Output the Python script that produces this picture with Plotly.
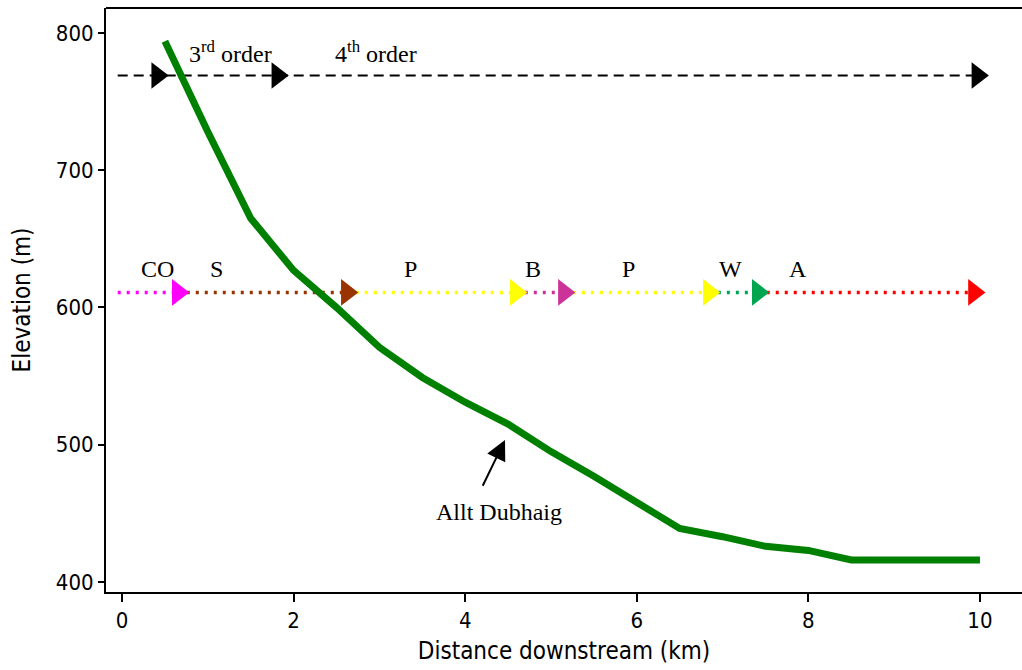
import plotly.graph_objects as go

# Long profile of Allt Dubhaig
dist_km = [0.5, 1.0, 1.5, 2.0, 2.5, 3.0, 3.5, 4.0, 4.5, 5.0, 5.5, 6.0, 6.5,
           7.0, 7.5, 8.0, 8.5, 9.0, 9.5, 10.0]
elev_m = [794, 728, 665, 627, 600, 571, 549, 531, 515, 495, 477, 458, 439,
          433, 426, 423, 416, 416, 416, 416]

# Stream order line
order_elev = 769
order_start = -0.05
order_arrows = [0.41, 1.81, 9.97]
order_labels = ["3<sup>rd</sup> order", "4<sup>th</sup> order"]
order_label_x = [1.27, 2.955]
order_label_elev = 786

# Geology / land segments line
seg_elev = 611
seg_start = [-0.05, 0.65, 2.62, 4.59, 5.15, 6.84, 7.41]
seg_end = [0.65, 2.62, 4.59, 5.15, 6.84, 7.41, 9.93]
seg_colors = ["#FF00FF", "#993300", "#FFFF00", "#CC3399", "#FFFF00", "#00A550", "#FF0000"]
seg_labels = ["CO", "S", "P", "B", "P", "W", "A"]
seg_label_x = [0.41, 1.1, 3.36, 4.79, 5.9, 7.09, 7.88]
seg_label_elev = 628

river_name = "Allt Dubhaig"
river_label_x, river_label_elev = 4.39, 451
arrow_tail = (4.196, 469)
arrow_tip = (4.464, 503.5)

serif = "Liberation Serif, Times New Roman, serif"
sans = "DejaVu Sans Condensed, DejaVu Sans, sans-serif"

fig = go.Figure()

# stream-order dashed line
fig.add_trace(go.Scatter(x=[order_start, order_arrows[-1]], y=[order_elev, order_elev],
                         mode="lines", line=dict(color="black", width=2, dash="10px,6px"),
                         hoverinfo="skip", showlegend=False))

# coloured dotted segments
for s, e, c in zip(seg_start, seg_end, seg_colors):
    fig.add_trace(go.Scatter(x=[s, e], y=[seg_elev, seg_elev], mode="lines",
                             line=dict(color=c, width=3.5, dash="3px,6px"),
                             hoverinfo="skip", showlegend=False))

# profile
fig.add_trace(go.Scatter(x=dist_km, y=elev_m, mode="lines",
                         line=dict(color="#008000", width=7),
                         hoverinfo="skip", showlegend=False))

# arrow markers
fig.add_trace(go.Scatter(x=order_arrows, y=[order_elev] * len(order_arrows), mode="markers",
                         marker=dict(symbol="triangle-right", size=23, color="black",
                                     line=dict(width=0)),
                         hoverinfo="skip", showlegend=False))
fig.add_trace(go.Scatter(x=seg_end, y=[seg_elev] * len(seg_end), mode="markers",
                         marker=dict(symbol="triangle-right", size=23, color=seg_colors,
                                     line=dict(width=0)),
                         hoverinfo="skip", showlegend=False))

annotations = []
for t, x in zip(order_labels, order_label_x):
    annotations.append(dict(x=x, y=order_label_elev, text=t, showarrow=False,
                            font=dict(family=serif, size=24, color="black")))
for t, x in zip(seg_labels, seg_label_x):
    annotations.append(dict(x=x, y=seg_label_elev, text=t, showarrow=False,
                            font=dict(family=serif, size=24, color="black")))
annotations.append(dict(x=river_label_x, y=river_label_elev, text=river_name, showarrow=False,
                        font=dict(family=serif, size=24, color="black")))
annotations.append(dict(x=arrow_tip[0], y=arrow_tip[1], ax=arrow_tail[0], ay=arrow_tail[1],
                        axref="x", ayref="y", xref="x", yref="y", text="",
                        showarrow=True, arrowhead=2, arrowsize=2, arrowwidth=2,
                        arrowcolor="black", standoff=0, startstandoff=0))

fig.update_layout(
    width=1022, height=670,
    margin=dict(l=106, r=0, t=8, b=78),
    paper_bgcolor="white", plot_bgcolor="white",
    annotations=annotations,
    showlegend=False,
    font=dict(family=sans, size=21, color="black"),
    shapes=[dict(type="line", xref="paper", yref="paper", x0=0, x1=1, y0=1, y1=1,
                 line=dict(color="black", width=2))],
)
fig.update_xaxes(range=[-0.1865, 10.49], tickvals=[0, 2, 4, 6, 8, 10],
                 showgrid=False, zeroline=False, showline=True, linecolor="black", linewidth=2,
                 ticks="outside", ticklen=8, tickwidth=2, tickcolor="black",
                 tickfont=dict(family=sans, size=22),
                 title=dict(text="Distance downstream (km)", font=dict(family=sans, size=24),
                            standoff=10))
fig.update_yaxes(range=[392.7, 818.2], tickvals=[400, 500, 600, 700, 800],
                 showgrid=False, zeroline=False, showline=True, linecolor="black", linewidth=2,
                 ticks="outside", ticklen=6, tickwidth=2, tickcolor="black",
                 tickfont=dict(family=sans, size=22),
                 title=dict(text="Elevation (m)", font=dict(family=sans, size=24),
                            standoff=18))

fig.write_html("out.html")
